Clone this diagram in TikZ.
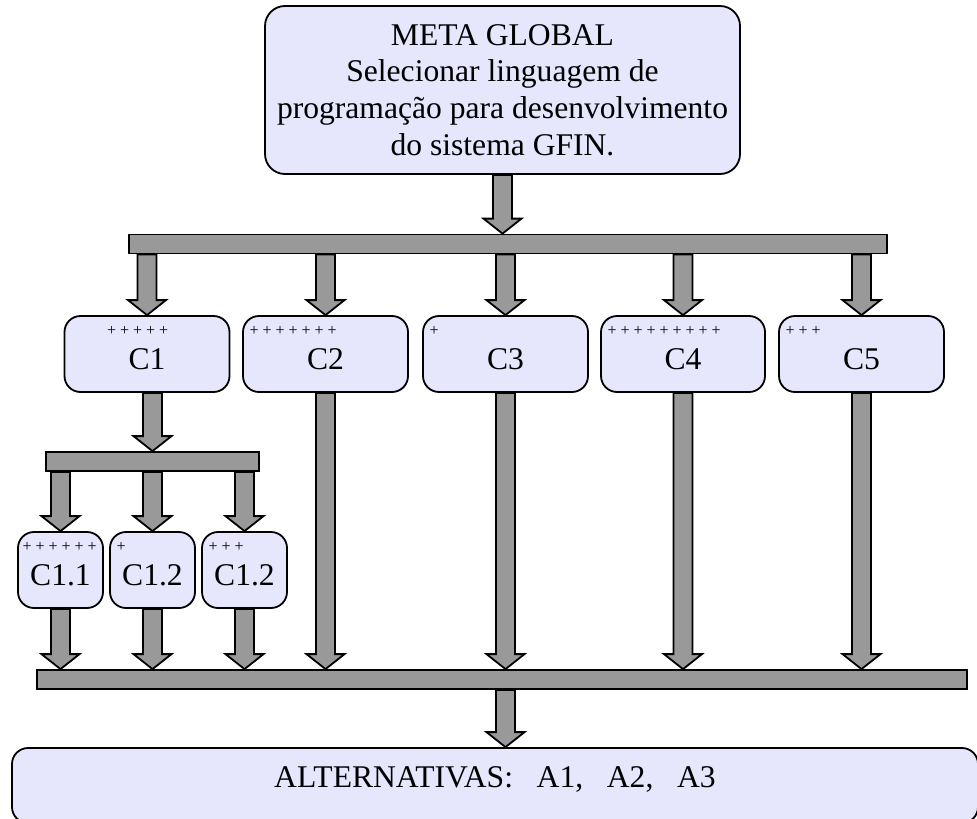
\documentclass[tikz,border=0pt]{standalone}
\usepackage{fontspec}
\setmainfont{Liberation Serif}
\usepackage{tikz}
\usetikzlibrary{calc}
\definecolor{boxfill}{RGB}{230,230,252}
\definecolor{arrowgray}{RGB}{153,153,153}
\def\shaft{4.75pt}
\def\head{9.5pt}
\def\headlen{7.5pt}

\tikzset{
  crit/.style={draw, fill=boxfill, line width=0.9pt, rounded corners=8pt,
    minimum height=38pt, text height=15pt, text depth=0pt, inner ysep=0pt},
  plusmark/.style={anchor=west, inner sep=0pt, font=\fontsize{8}{9}\selectfont,
    xshift=3.5pt, yshift=-8pt},
  bar/.style={draw, fill=arrowgray, line width=0.9pt, inner sep=0pt, minimum height=9.5pt},
  blockarrow/.style={draw, fill=arrowgray, line width=0.9pt, line join=miter,
    to path={let \p1=(\tikztostart), \p2=(\tikztotarget) in
      (\x1-\shaft,\y1) -- (\x1-\shaft,\y2+\headlen) -- (\x1-\head,\y2+\headlen) -- (\x1,\y2)
      -- (\x1+\head,\y2+\headlen) -- (\x1+\shaft,\y2+\headlen) -- (\x1+\shaft,\y1) -- cycle}},
}

\begin{document}
\begin{tikzpicture}[x=0.5pt, y=-0.5pt, font=\fontsize{15.8}{18.3}\selectfont]
	\useasboundingbox (0,0) rectangle (977,818);
	%\draw[step=50, black!20] (0,0) grid (977,818);
	\node[draw, fill=boxfill, line width=0.9pt, rounded corners=10pt, align=center,
		minimum width=237.5pt, minimum height=84pt] (goal) at (502.5,90)
		{META GLOBAL\\ Selecionar linguagem de\\ programação para desenvolvimento\\ do sistema GFIN.};
	\node[bar, minimum width=379pt] (bar1) at (508,244) {};
	\node[crit, minimum width=82.5pt, label={[plusmark, xshift=18pt]north west:+ + + + +}] (c1) at (147,354) {C1};
	\node[crit, minimum width=82.5pt, label={[plusmark]north west:+ + + + + + +}] (c2) at (325.5,354) {C2};
	\node[crit, minimum width=82.5pt, label={[plusmark]north west:+}] (c3) at (505.5,354) {C3};
	\node[crit, minimum width=82pt, label={[plusmark]north west:+ + + + + + + + +}] (c4) at (683,354) {C4};
	\node[crit, minimum width=82.5pt, label={[plusmark]north west:+ + +}] (c5) at (861.5,354) {C5};
	\node[bar, minimum width=106.5pt] (bar2) at (152.5,461.5) {};
	\node[crit, minimum width=42.5pt, label={[plusmark, xshift=-1pt]north west:+ + + + + +}] (c11) at (60.5,570) {C1.1};
	\node[crit, minimum width=42.5pt, label={[plusmark]north west:+}] (c12) at (152.5,570) {C1.2};
	\node[crit, minimum width=42.5pt, label={[plusmark]north west:+ + +}] (c13) at (244.5,570) {C1.2};
	\node[bar, minimum width=465pt] (bar3) at (502,679.5) {};
	\node[draw, fill=boxfill, line width=0.9pt, rounded corners=8pt, inner ysep=0pt,
		minimum width=483pt, minimum height=37.5pt, text height=19.5pt, text depth=18pt]
		(alt) at (495,785.5) {ALTERNATIVAS:\ \ \ A1,\ \ \ A2,\ \ \ A3};
	% setas
	\draw[blockarrow] (goal.south) to (goal.south |- bar1.north);
	\foreach \c in {c1,c2,c3,c4,c5}
		\draw[blockarrow] (\c.north |- bar1.south) to (\c.north);
	\draw[blockarrow] (bar2.north |- c1.south) to (bar2.north);
	\foreach \c in {c11,c12,c13}{
		\draw[blockarrow] (\c.north |- bar2.south) to (\c.north);
		\draw[blockarrow] (\c.south) to (\c.south |- bar3.north);
	}
	\foreach \c in {c2,c3,c4,c5}
		\draw[blockarrow] (\c.south) to (\c.south |- bar3.north);
	\draw[blockarrow] (c3.south |- bar3.south) to (c3.south |- alt.north);
\end{tikzpicture}
\end{document}
